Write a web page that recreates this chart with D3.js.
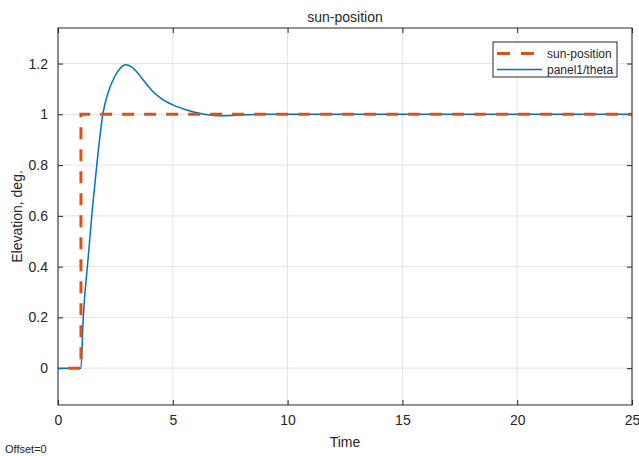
<!DOCTYPE html>
<html>
<head>
<meta charset="utf-8">
<script src="https://cdn.jsdelivr.net/npm/d3@7"></script>
<style>
  body { margin: 0; background: #fff; }
  text { font-family: "Liberation Sans", Arial, sans-serif; fill: #262626; }
</style>
</head>
<body>
<div id="chart"></div>
<script>
// step input (sun-position)
const stepTime = [0, 1, 1, 25];
const stepValue = [0, 0, 1, 1];

// panel response (panel1/theta)
const thetaTime = [0, 1.0, 1.1, 1.3, 1.5, 1.7, 1.95, 2.2, 2.45, 2.7, 2.95, 3.2, 3.5, 3.8, 4.1, 4.5, 5.0, 5.5, 6.0, 6.5, 7.0, 7.5, 8.0, 9.0, 10, 25];
const thetaValue = [0, 0, 0.2, 0.42, 0.63, 0.81, 1.0, 1.09, 1.145, 1.18, 1.195, 1.187, 1.16, 1.125, 1.093, 1.062, 1.037, 1.02, 1.007, 0.998, 0.994, 0.995, 0.998, 1.0, 1.0, 1.0];

const xTicks = [0, 5, 10, 15, 20, 25];
const yTicks = [0, 0.2, 0.4, 0.6, 0.8, 1, 1.2];
const legendNames = ["sun-position", "panel1/theta"];

const width = 639, height = 456;
const plot = { left: 58, right: 632, top: 28, bottom: 405 };

const x = d3.scaleLinear().domain([0, 25]).range([plot.left, plot.right]);
const y = d3.scaleLinear().domain([-0.145, 1.34]).range([plot.bottom, plot.top]);

const svg = d3.select("#chart").append("svg")
  .attr("width", width)
  .attr("height", height);

// grid
svg.append("g").selectAll("line").data(xTicks).enter().append("line")
  .attr("x1", d => x(d)).attr("x2", d => x(d))
  .attr("y1", plot.top).attr("y2", plot.bottom)
  .attr("stroke", "#e3e3e3").attr("stroke-width", 1);
svg.append("g").selectAll("line").data(yTicks).enter().append("line")
  .attr("x1", plot.left).attr("x2", plot.right)
  .attr("y1", d => y(d)).attr("y2", d => y(d))
  .attr("stroke", "#e3e3e3").attr("stroke-width", 1);

// axes, ticks pointing inward on all four sides
const tickLen = 5;
svg.append("g").attr("transform", "translate(0," + plot.bottom + ")")
  .call(d3.axisBottom(x).tickValues(xTicks).tickSizeInner(-tickLen).tickSizeOuter(0).tickPadding(10).tickFormat(d3.format("d")))
  .call(g => g.select(".domain").remove());
svg.append("g").attr("transform", "translate(0," + plot.top + ")")
  .call(d3.axisTop(x).tickValues(xTicks).tickSizeInner(-tickLen).tickSizeOuter(0).tickFormat(""))
  .call(g => g.select(".domain").remove());
svg.append("g").attr("transform", "translate(" + plot.left + ",0)")
  .call(d3.axisLeft(y).tickValues(yTicks).tickSizeInner(-tickLen).tickSizeOuter(0).tickPadding(10).tickFormat(d => d3.format("~g")(d)))
  .call(g => g.select(".domain").remove());
svg.append("g").attr("transform", "translate(" + plot.right + ",0)")
  .call(d3.axisRight(y).tickValues(yTicks).tickSizeInner(-tickLen).tickSizeOuter(0).tickFormat(""))
  .call(g => g.select(".domain").remove());

svg.selectAll(".tick line").attr("stroke", "#262626");
svg.selectAll(".tick text")
  .attr("font-family", "Liberation Sans, Arial, sans-serif")
  .attr("font-size", 14)
  .attr("fill", "#262626");

// lines - response first, dashed step drawn over it
const responseLine = d3.line().x(d => x(d[0])).y(d => y(d[1])).curve(d3.curveMonotoneX);
const stepLine = d3.line().x(d => x(d[0])).y(d => y(d[1]));

svg.append("path")
  .datum(d3.zip(thetaTime, thetaValue))
  .attr("d", responseLine)
  .attr("fill", "none")
  .attr("stroke", "#0072BD")
  .attr("stroke-width", 1.5);

svg.append("path")
  .datum(d3.zip(stepTime, stepValue))
  .attr("d", stepLine)
  .attr("fill", "none")
  .attr("stroke", "#D95319")
  .attr("stroke-width", 3)
  .style("stroke-dasharray", "12 10")
  .style("stroke-dashoffset", "12");

// frame
svg.append("rect")
  .attr("x", plot.left).attr("y", plot.top)
  .attr("width", plot.right - plot.left).attr("height", plot.bottom - plot.top)
  .attr("fill", "none").attr("stroke", "#262626").attr("stroke-width", 1);

// titles
svg.append("text")
  .attr("x", (plot.left + plot.right) / 2).attr("y", 22)
  .attr("text-anchor", "middle").attr("font-size", 14)
  .text("sun-position");
svg.append("text")
  .attr("x", (plot.left + plot.right) / 2).attr("y", 447)
  .attr("text-anchor", "middle").attr("font-size", 14)
  .text("Time");
svg.append("text")
  .attr("transform", "translate(22," + (plot.top + plot.bottom) / 2 + ") rotate(-90)")
  .attr("text-anchor", "middle").attr("font-size", 14)
  .text("Elevation, deg.");
svg.append("text")
  .attr("x", 5).attr("y", 453)
  .attr("font-size", 11)
  .attr("fill", "#000")
  .text("Offset=0");

// legend
const legend = svg.append("g");
legend.append("rect")
  .attr("x", 493).attr("y", 42).attr("width", 124).attr("height", 35)
  .attr("fill", "#fff").attr("stroke", "#262626").attr("stroke-width", 1);
const rows = legend.selectAll("g").data(legendNames).enter().append("g")
  .attr("transform", (d, i) => "translate(0," + (53.5 + i * 16) + ")");
rows.append("line")
  .attr("x1", 497).attr("x2", 542).attr("y1", 0).attr("y2", 0)
  .attr("stroke", (d, i) => i === 0 ? "#D95319" : "#0072BD")
  .attr("stroke-width", (d, i) => i === 0 ? 3 : 1.5)
  .attr("stroke-dasharray", (d, i) => i === 0 ? "13,11" : null);
rows.append("text")
  .attr("x", 547).attr("y", 4.5)
  .attr("font-size", 12)
  .text(d => d);
</script>
</body>
</html>
